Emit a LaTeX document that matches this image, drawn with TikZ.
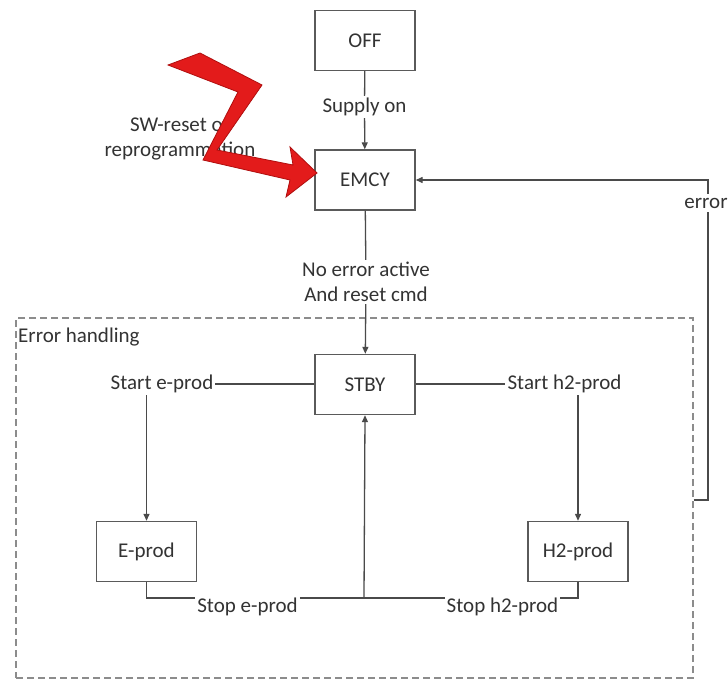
\documentclass[tikz,border=0pt]{standalone}
\usepackage{fontspec}
\setmainfont{Carlito}
\usetikzlibrary{arrows.meta}
\definecolor{linegray}{HTML}{4A4A4A}
\definecolor{boxgray}{HTML}{5A5A5A}
\definecolor{txtgray}{HTML}{333333}
\definecolor{dashgray}{HTML}{8C8C8C}
\definecolor{zred}{HTML}{E31B1B}
\definecolor{zdark}{HTML}{B00E0E}

\begin{document}
\begin{tikzpicture}[x=1pt,y=-1pt,
  every node/.style={font=\fontsize{21}{25}\selectfont, text=txtgray},
  state/.style={draw=boxgray, line width=1.4pt, minimum width=100pt, minimum height=60pt, inner sep=0pt},
  lbl/.style={inner sep=2pt, align=center},
  frame/.style={draw=dashgray, line width=1.4pt, dash pattern=on 7pt off 4pt, minimum width=677pt, minimum height=360pt, inner sep=0pt},
  conn/.style={draw=linegray, line width=1.3pt},
  arr/.style={conn, -{Triangle[length=7pt,width=6pt]}},
]
\useasboundingbox (0,0) rectangle (728,682);
\fill[white] (0,0) rectangle (728,682);

% group frame
\node[frame] (frame) at (354.5,498) {};
\node[lbl, anchor=west] (errh) at (16,337) {Error handling};

% states
\node[state] (off)   at (365,40.5)  {OFF};
\node[state] (emcy)  at (365,180)   {EMCY};
\node[state] (stby)  at (365,384.5) {STBY};
\node[state] (eprod) at (146.5,551.5) {E-prod};
\node[state] (hprod) at (578,551.5)   {H2-prod};

% transition labels
\node[lbl] (supply) at (364.5,107) {Supply on};
\node[lbl] (noerr)  at (366,282)   {No error active\\And reset cmd};
\node[lbl] (starte) at (162,384)   {Start e-prod};
\node[lbl] (starth) at (564.5,384) {Start h2-prod};
\node[lbl] (stope)  at (247.5,607) {Stop e-prod};
\node[lbl] (stoph)  at (502.5,607) {Stop h2-prod};
\node[lbl, inner xsep=0pt, inner ysep=4pt] (errlbl) at (706,203) {error};
\node[lbl] (swreset) at (180,139)  {SW-reset or\\reprogrammation};

\coordinate (join)   at (364,598);
\coordinate (errtop) at (708,180);
\coordinate (errbot) at (708,500);

% transitions
\draw[conn] (off) -- (supply);
\draw[arr]  (supply) -- (emcy);
\draw[conn] (emcy) -- (noerr);
\draw[arr]  (noerr) -- (stby);

\draw[conn] (stby.west |- starte.east) -- (starte.east);
\draw[arr]  (starte.south -| eprod.north) -- (eprod.north);
\draw[conn] (stby.east |- starth.west) -- (starth.west);
\draw[arr]  (starth.south -| hprod.north) -- (hprod.north);

\draw[conn] (eprod.south) |- (stope.west |- join);
\draw[conn] (stope.east |- join) -- (stoph.west |- join);
\draw[conn] (hprod.south) |- (stoph.east |- join);
\draw[arr]  (join) -- (stby.south);

\draw[conn] (frame.east |- errbot) -- (errbot) -- (errbot |- errlbl.south);
\draw[arr]  (errtop |- errlbl.north) -- (errtop) -- (emcy.east);

% red zig-zag arrow
\filldraw[fill=zred, draw=zdark, line width=0.8pt, line join=miter]
  (168,65) -- (200,53) -- (262,85) -- (217,150) -- (293,165) -- (290,147)
  -- (317,173) -- (286,197) -- (290,180) -- (203,160) -- (238,92) -- cycle;
\end{tikzpicture}
\end{document}
